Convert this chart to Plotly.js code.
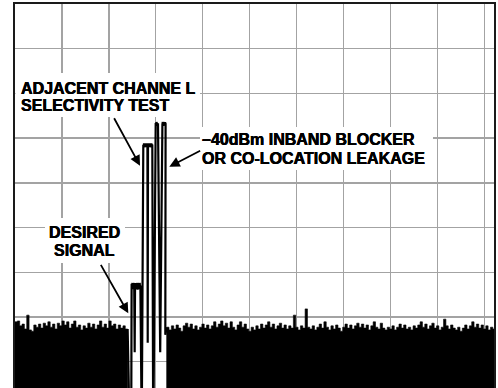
<!DOCTYPE html>
<html><head><meta charset="utf-8">
<script src="https://cdn.plot.ly/plotly-3.0.1.min.js"></script>
<style>html,body{margin:0;padding:0;background:#fff}#chart{width:498px;height:388px}</style>
</head><body><div id="chart"></div>
<script>
// ---- data (x in divisions, y in dB relative to top of screen, 10 dB/div) ----
const noiseStep = 0.05;
const noiseLeftStart = 0.0;
const noiseLeft = [-71.1,-70.9,-72.0,-71.6,-72.7,-69.6,-72.9,-73.2,-71.8,-72.3,-71.6,-72.5,-71.4,-72.0,-71.1,-72.3,-71.6,-72.7,-71.4,-72.0,-70.9,-71.8,-71.1,-72.5,-71.6,-70.9,-72.3,-71.8,-72.9,-72.0,-72.5,-71.4,-72.3,-71.6,-72.7,-71.8,-70.9,-72.3,-71.6,-72.5,-70.9,-72.0,-71.6,-72.7,-71.8,-72.5,-72.0,-72.7];
const noiseRightStart = 3.232;
const noiseRight = [
-72.3,-72.9,-72.0,-72.7,-71.8,-72.5,-73.2,-72.0,-71.4,-72.3,
-71.6,-72.7,-72.0,-72.9,-72.3,-71.6,-72.5,-71.8,-72.7,-72.0,
-71.1,-72.3,-71.6,-70.9,-72.0,-71.4,-72.5,-71.1,-72.3,-72.9,
-71.8,-71.1,-72.3,-71.6,-72.7,-73.2,-72.3,-72.9,-72.0,-72.7,
-71.6,-72.5,-71.8,-71.1,-72.3,-71.6,-72.7,-72.0,-71.4,-72.5,
-71.8,-72.7,-72.0,-72.5,-69.6,-72.3,-72.9,-72.0,-72.5,-68.2,
-72.3,-72.7,-72.0,-72.9,-72.3,-71.6,-72.5,-71.1,-72.3,-72.9,
-72.0,-72.7,-71.8,-72.5,-73.2,-72.3,-71.6,-72.5,-71.8,-72.7,
-72.0,-71.4,-72.3,-71.6,-72.5,-71.8,-72.9,-72.0,-71.1,-72.3,
-72.7,-71.4,-72.5,-72.9,-72.3,-72.7,-72.0,-72.9,-72.3,-71.6,
-72.5,-71.8,-72.7,-72.3,-72.9,-72.0,-72.5,-71.8,-71.1,-72.3,
-71.6,-72.7,-72.0,-71.4,-72.5,-72.0,-72.9,-72.3,-70.5,-72.0,
-72.7,-71.8,-72.5,-72.9,-72.3,-73.2,-72.5,-71.8,-72.7,-72.0,
-71.1,-72.3,-71.6,-72.5,-71.8,-72.7,-72.0,-72.9,-72.3,-72.7];
const signalX = [2.40,2.43,2.478,
  2.485,2.494,2.503,2.512,2.521,2.531,2.540,2.550,2.558,2.567,2.576,2.585,2.594,2.603,2.612,2.621,2.630,2.639,2.648,2.657,2.666,2.672,
  2.695,2.704,
  2.734,2.742,2.750,2.758,2.766,2.774,2.782,2.790,2.798,2.806,2.814,2.822,2.828,2.834,2.842,2.850,2.858,2.866,2.874,2.882,2.890,2.898,2.906,2.914,2.922,2.926,
  2.943,2.953,
  2.998,3.006,3.014,3.022,3.030,3.038,3.047,3.094,3.141,3.149,3.157,3.165,3.173,3.181,3.189,3.197,3.205,3.209,
  3.203,3.232];
const signalY = [-72.7,-88.6,-88.6,
  -62.6,-63.6,-62.4,-63.8,-62.5,-63.5,-62.4,-77.9,-63.4,-62.5,-63.8,-62.4,-63.6,-62.6,-63.9,-62.4,-63.5,-62.5,-63.8,-62.4,-63.6,-63.0,
  -88.6,-88.6,
  -31.5,-32.0,-31.2,-31.9,-31.2,-32.0,-31.3,-31.9,-31.2,-32.0,-31.3,-31.8,-75.8,-31.9,-31.2,-32.0,-31.3,-31.9,-31.2,-32.0,-31.3,-31.9,-31.2,-32.0,-31.4,-31.6,
  -88.6,-88.6,
  -26.6,-27.2,-26.4,-27.1,-26.4,-27.2,-26.7,-77.9,-26.9,-26.4,-27.2,-26.4,-27.1,-26.4,-27.2,-26.5,-27.0,-26.8,
  -74.0,-72.3];
const labelACS = ['ADJACENT CHANNE L', 'SELECTIVITY TEST'];
const labelBlocker = ['\u201340dBm INBAND BLOCKER', 'OR CO-LOCATION LEAKAGE'];
const labelDesired = ['DESIRED', 'SIGNAL'];

// ---- build ----
const X_RANGE = [0, 10.207];
const Y_RANGE = [-85.9, 0];
const FLOOR = -100;

function noisePoly(start, levels) {
  const xs = [start], ys = [FLOOR];
  levels.forEach((v, i) => { xs.push(start + i * noiseStep); ys.push(v); });
  xs.push(start + levels.length * noiseStep); ys.push(FLOOR);
  return {x: xs, y: ys, type: 'scatter', mode: 'lines', fill: 'toself',
    fillcolor: '#000', line: {color: '#000', width: 0.6, shape: 'hv'}, hoverinfo: 'skip'};
}

const traces = [
  noisePoly(noiseLeftStart, noiseLeft),
  noisePoly(noiseRightStart, noiseRight),
  {x: signalX, y: signalY, type: 'scatter', mode: 'lines',
   line: {color: '#000', width: 2.2}, hoverinfo: 'skip'}
];

const FONT = {family: 'Liberation Sans, Arial, sans-serif', size: 16, color: '#000',
  shadow: '0.35px 0 0 #000, -0.2px 0 0 #000'};
function txt(x, y, s, anchor) {
  return {x: x, y: y, xref: 'x', yref: 'y', text: '<b>' + s + '</b>', showarrow: false,
    xanchor: anchor, yanchor: 'middle', font: FONT, borderpad: 0, borderwidth: 0};
}
function arrow(x, y, ax, ay) {
  return {x: x, y: y, ax: ax, ay: ay, xref: 'x', yref: 'y', axref: 'x', ayref: 'y',
    text: '', showarrow: true, arrowhead: 2, arrowsize: 1.15, arrowwidth: 1.8, arrowcolor: '#000', standoff: 0};
}
const annotations = [
  txt(0.128, -18.9, labelACS[0], 'left'),
  txt(0.128, -22.77, labelACS[1], 'left'),
  txt(3.985, -30.2, labelBlocker[0], 'left'),
  txt(3.985, -34.56, labelBlocker[1], 'left'),
  txt(1.474, -51.12, labelDesired[0], 'center'),
  txt(1.474, -55.21, labelDesired[1], 'center'),
  arrow(2.664, -36.17, 2.095, -25.21),
  arrow(3.288, -36.40, 3.978, -32.66),
  arrow(2.414, -69.19, 1.811, -58.01)
];
function box(x0, x1, y0, y1) {
  return {type: 'rect', xref: 'x', yref: 'y', x0: x0, x1: x1, y0: y0, y1: y1,
    fillcolor: '#fff', line: {width: 0}, layer: 'between'};
}
const shapes = [
  box(0.011, 3.942, -15.44, -25.28),
  box(3.942, 8.907, -27.52, -37.14),
  box(0.639, 2.344, -47.87, -57.94)
];

const layout = {
  width: 498, height: 388,
  margin: {l: 15, r: 4, t: 4, b: 0, pad: 0},
  paper_bgcolor: '#fff', plot_bgcolor: '#fff',
  showlegend: false,
  xaxis: {range: X_RANGE, dtick: 1, tick0: 0, showgrid: true, gridcolor: '#a3a3a3', gridwidth: 1.4,
    zeroline: false, showticklabels: false, ticks: '', side: 'top',
    showline: true, linecolor: '#1a1a1a', linewidth: 1.6, fixedrange: true},
  yaxis: {range: Y_RANGE, dtick: 10, tick0: 0, showgrid: true, gridcolor: '#a3a3a3', gridwidth: 1.4,
    zeroline: false, showticklabels: false, ticks: '',
    showline: true, mirror: true, linecolor: '#1a1a1a', linewidth: 1.6, fixedrange: true},
  annotations: annotations,
  shapes: shapes
};
Plotly.newPlot('chart', traces, layout, {staticPlot: true, displayModeBar: false});
</script></body></html>
